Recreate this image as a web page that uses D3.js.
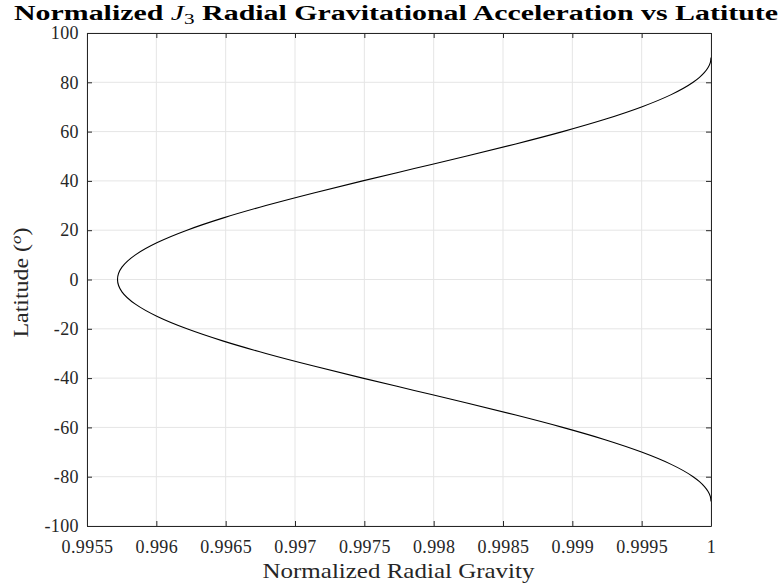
<!DOCTYPE html>
<html>
<head>
<meta charset="utf-8">
<script src="https://cdn.jsdelivr.net/npm/d3@7"></script>
<style>
  html, body { margin: 0; padding: 0; background: #fff; }
  svg { display: block; }
  text { font-family: "Liberation Serif", "DejaVu Serif", serif; fill: #262626; }
</style>
</head>
<body>
<svg id="chart" width="783" height="588"></svg>
<script>
// Latitude samples (degrees), southern pole to northern pole
const latitude = [-90, -88, -86, -84, -82, -80, -75, -70, -65, -60, -55, -50, -45, -40, -35, -30, -25, -20, -15, -10, -5,
                  0, 5, 10, 15, 20, 25, 30, 35, 40, 45, 50, 55, 60, 65, 70, 75, 80, 82, 84, 86, 88, 90];
// Normalized radial gravity at each latitude
const gravity = [1.000000, 0.999995, 0.999979, 0.999953, 0.999917, 0.999871, 0.999713, 0.999499, 0.999236, 0.998930,
                 0.998592, 0.998232, 0.997860, 0.997488, 0.997128, 0.996790, 0.996484, 0.996221, 0.996007, 0.995849,
                 0.995752, 0.995720, 0.995752, 0.995849, 0.996007, 0.996221, 0.996484, 0.996790, 0.997128, 0.997488,
                 0.997860, 0.998232, 0.998592, 0.998930, 0.999236, 0.999499, 0.999713, 0.999871, 0.999917, 0.999953,
                 0.999979, 0.999995, 1.000000];

const xTicks = [0.9955, 0.996, 0.9965, 0.997, 0.9975, 0.998, 0.9985, 0.999, 0.9995, 1];
const xTickLabels = ["0.9955", "0.996", "0.9965", "0.997", "0.9975", "0.998", "0.9985", "0.999", "0.9995", "1"];
const yTicks = [-100, -80, -60, -40, -20, 0, 20, 40, 60, 80, 100];
const yTickLabels = ["-100", "-80", "-60", "-40", "-20", "0", "20", "40", "60", "80", "100"];

const svg = d3.select("#chart");
const m = { left: 87, right: 72, top: 33, bottom: 62 };
const W = 783, H = 588;
const iw = W - m.left - m.right, ih = H - m.top - m.bottom;

const x = d3.scaleLinear().domain([0.9955, 1]).range([0, iw]);
const y = d3.scaleLinear().domain([-100, 100]).range([ih, 0]);

const g = svg.append("g").attr("transform", `translate(${m.left},${m.top})`);

// grid
g.append("g").selectAll("line").data(xTicks).join("line")
  .attr("x1", d => x(d)).attr("x2", d => x(d)).attr("y1", 0).attr("y2", ih)
  .attr("stroke", "#e5e5e5").attr("stroke-width", 1);
g.append("g").selectAll("line").data(yTicks).join("line")
  .attr("y1", d => y(d)).attr("y2", d => y(d)).attr("x1", 0).attr("x2", iw)
  .attr("stroke", "#e5e5e5").attr("stroke-width", 1);

// curve
const pts = latitude.map((lat, i) => [gravity[i], lat]);
g.append("path").datum(pts)
  .attr("fill", "none").attr("stroke", "#000").attr("stroke-width", 1.1)
  .attr("d", d3.line().x(d => x(d[0])).y(d => y(d[1])).curve(d3.curveMonotoneY));

// axes with inward ticks on all four sides
const tickLen = 5;
const xb = d3.axisBottom(x).tickValues(xTicks).tickFormat((d, i) => xTickLabels[i]).tickSizeInner(-tickLen).tickSizeOuter(0).tickPadding(14);
const xt = d3.axisTop(x).tickValues(xTicks).tickFormat("").tickSizeInner(-tickLen).tickSizeOuter(0);
const yl = d3.axisLeft(y).tickValues(yTicks).tickFormat((d, i) => yTickLabels[i]).tickSizeInner(-tickLen).tickSizeOuter(0).tickPadding(8);
const yr = d3.axisRight(y).tickValues(yTicks).tickFormat("").tickSizeInner(-tickLen).tickSizeOuter(0);

function style(sel) {
  sel.selectAll("path, line").attr("stroke", "#262626").attr("stroke-width", 1);
  sel.selectAll("text").attr("fill", "#262626").style("font-size", "18px")
    .style("letter-spacing", "0.4px").style("font-family", "'Liberation Serif', serif");
}
g.append("g").attr("transform", `translate(0,${ih})`).call(xb).call(style);
g.append("g").call(xt).call(style);
g.append("g").call(yl).call(style);
g.append("g").attr("transform", `translate(${iw},0)`).call(yr).call(style);

// axis titles
svg.append("text")
  .attr("x", m.left + iw / 2 - 0.5).attr("y", 578)
  .attr("text-anchor", "middle").style("font-size", "21px")
  .attr("textLength", 272).attr("lengthAdjust", "spacingAndGlyphs")
  .text("Normalized Radial Gravity");

const ylab = svg.append("text")
  .attr("transform", `translate(28,${m.top + ih / 2 + 3}) rotate(-90)`)
  .attr("text-anchor", "middle").style("font-size", "21px")
  .attr("textLength", 110).attr("lengthAdjust", "spacingAndGlyphs");
ylab.append("tspan").text("Latitude (");
ylab.append("tspan").attr("font-style", "italic").attr("dy", -7).style("font-size", "15px").text("o");
ylab.append("tspan").attr("dy", 7).text(")");

// title
const title = svg.append("text")
  .attr("x", 396).attr("y", 20)
  .attr("text-anchor", "middle").style("font-size", "20.5px").style("font-weight", "bold")
  .attr("textLength", 764).attr("lengthAdjust", "spacingAndGlyphs")
  .style("fill", "#000");
title.append("tspan").text("Normalized ");
title.append("tspan").attr("font-style", "italic").attr("font-weight", "normal").text("J");
title.append("tspan").attr("dy", 4).attr("font-weight", "normal").style("font-size", "14.5px").text("3");
title.append("tspan").attr("dy", -4).text(" Radial Gravitational Acceleration vs Latitute");
</script>
</body>
</html>
